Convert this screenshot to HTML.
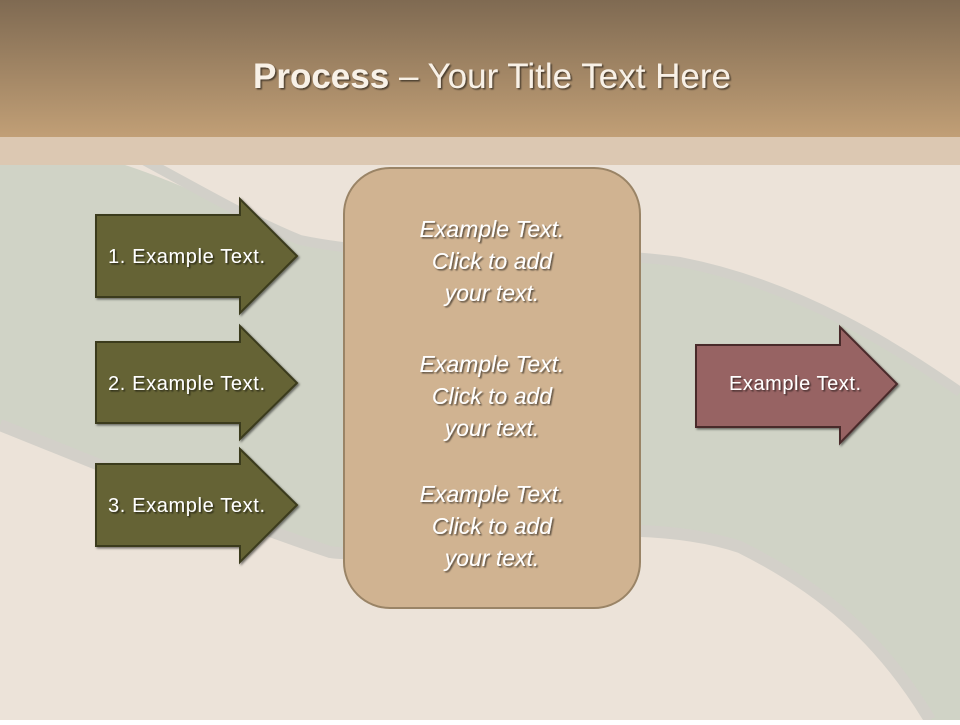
<!DOCTYPE html>
<html><head><meta charset="utf-8"><style>
body{margin:0;width:960px;height:720px;overflow:hidden;font-family:"Liberation Sans",sans-serif}
</style></head><body>
<svg width="960" height="720" viewBox="0 0 960 720" xmlns="http://www.w3.org/2000/svg">
<defs>
<linearGradient id="hd" x1="0" y1="0" x2="0" y2="1"><stop offset="0" stop-color="#7f6a52"/><stop offset="1" stop-color="#c19f76"/></linearGradient>
<filter id="sh" x="-10%" y="-10%" width="130%" height="140%"><feDropShadow dx="1.5" dy="1.5" stdDeviation="1" flood-color="#000" flood-opacity="0.5"/></filter>
<filter id="ts"><feDropShadow dx="1.5" dy="1.5" stdDeviation="0.8" flood-color="#000" flood-opacity="0.55"/></filter>
</defs>
<rect width="960" height="720" fill="#ece3d9"/>
<path d="M0,165 L125,165 C200,190 250,220 300,240 C420,265 560,245 680,262 C800,285 900,350 960,392 L960,720 L930,720 C880,640 820,590 740,550 C680,530 600,530 500,540 C420,550 360,560 330,555 C220,520 100,470 0,430 Z" fill="#d0d3c6"/>
<path d="M125,150 C200,190 250,220 300,240 C420,265 560,245 680,262 C800,285 900,350 960,392" fill="none" stroke="#d2d0c9" stroke-width="10"/>
<path d="M0,425 C100,465 220,515 330,552 C360,557 420,547 500,537 C600,527 680,527 740,547 C820,587 880,637 930,720" fill="none" stroke="#d3d0c9" stroke-width="12"/>
<rect width="960" height="137" fill="url(#hd)"/>
<rect y="137" width="960" height="28" fill="#dcc8b2"/>
<text x="492" y="88" text-anchor="middle" font-size="35" fill="#f8f1e7" filter="url(#ts)"><tspan font-weight="bold">Process</tspan> – Your Title Text Here</text>
<g fill="#656335" stroke="#3a3a1e" stroke-width="2" filter="url(#sh)">
<path d="M96,215 H240 V199 L297,256 L240,313 V297 H96 Z"/>
<path d="M96,342 H240 V326 L297,383 L240,439 V423 H96 Z"/>
<path d="M96,464 H240 V449 L297,505 L240,562 V546 H96 Z"/>
</g>
<path d="M696,345 H840 V327 L897,384 L840,443 V427 H696 Z" fill="#976364" stroke="#4a2a2a" stroke-width="2" filter="url(#sh)"/>
<rect x="344" y="168" width="296" height="440" rx="46" fill="#d0b391" stroke="#9a8466" stroke-width="2"/>
<g font-size="20" fill="#fff" filter="url(#ts)">
<text x="108" y="263" textLength="157">1. Example Text.</text>
<text x="108" y="390" textLength="157">2. Example Text.</text>
<text x="108" y="512" textLength="157">3. Example Text.</text>
<text x="729" y="390" textLength="132">Example Text.</text>
</g>
<g font-size="23" font-style="italic" fill="#fff" text-anchor="middle" filter="url(#ts)">
<text x="492" y="237">Example Text.</text><text x="492" y="269">Click  to add</text><text x="492" y="301">your text.</text>
<text x="492" y="372">Example Text.</text><text x="492" y="404">Click  to add</text><text x="492" y="436">your text.</text>
<text x="492" y="502">Example Text.</text><text x="492" y="534">Click  to add</text><text x="492" y="566">your text.</text>
</g>
</svg>
</body></html>
